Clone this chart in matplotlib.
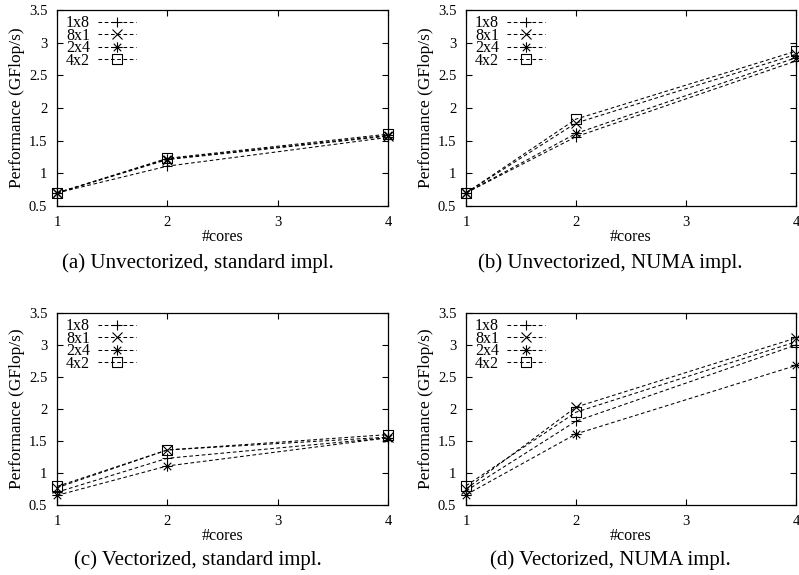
import matplotlib
matplotlib.use("Agg")
import matplotlib.pyplot as plt
from matplotlib.path import Path

plt.rcParams['font.family'] = ['Liberation Serif', 'DejaVu Serif']

cores = [1, 2, 4]
series_names = ["1x8", "8x1", "2x4", "4x2"]

a_1x8 = [0.70, 1.11, 1.55]
a_8x1 = [0.70, 1.21, 1.57]
a_2x4 = [0.70, 1.22, 1.58]
a_4x2 = [0.70, 1.23, 1.60]

b_1x8 = [0.70, 1.56, 2.72]
b_8x1 = [0.70, 1.77, 2.82]
b_2x4 = [0.70, 1.61, 2.77]
b_4x2 = [0.70, 1.83, 2.87]

c_1x8 = [0.70, 1.23, 1.55]
c_8x1 = [0.77, 1.36, 1.56]
c_2x4 = [0.65, 1.11, 1.55]
c_4x2 = [0.79, 1.36, 1.60]

d_1x8 = [0.72, 1.81, 3.00]
d_8x1 = [0.75, 2.03, 3.11]
d_2x4 = [0.66, 1.61, 2.68]
d_4x2 = [0.80, 1.95, 3.05]

captions = ["(a) Unvectorized, standard impl.",
            "(b) Unvectorized, NUMA impl.",
            "(c) Vectorized, standard impl.",
            "(d) Vectorized, NUMA impl."]
yticks = [0.5, 1, 1.5, 2, 2.5, 3, 3.5]
ytick_labels = ["0.5", "1", "1.5", "2", "2.5", "3", "3.5"]
xticks = [1, 2, 3, 4]

panels = [
    [a_1x8, a_8x1, a_2x4, a_4x2],
    [b_1x8, b_8x1, b_2x4, b_4x2],
    [c_1x8, c_8x1, c_2x4, c_4x2],
    [d_1x8, d_8x1, d_2x4, d_4x2],
]

# custom gnuplot-like markers
star = Path([(-1, 0), (1, 0), (0, -1), (0, 1), (-.72, -.72), (.72, .72), (-.72, .72), (.72, -.72)],
            [Path.MOVETO, Path.LINETO] * 4)
s = 0.07
box = Path([(-1, -1), (1, -1), (1, 1), (-1, 1), (-1, -1),
            (-s, -s), (s, -s), (s, s), (-s, s), (-s, -s)],
           [Path.MOVETO, Path.LINETO, Path.LINETO, Path.LINETO, Path.CLOSEPOLY,
            Path.MOVETO, Path.LINETO, Path.LINETO, Path.LINETO, Path.CLOSEPOLY])
markers = ['+', 'x', star, box]
msizes = [7.5, 6.5, 7.5, 6.5]

W, H = 799, 575
fig = plt.figure(figsize=(W / 100, H / 100), dpi=100)

ax_px = [(57, 10, 388, 206), (466, 10, 796, 206),
         (57, 313, 388, 505), (466, 313, 796, 505)]
cap_pos = [(198, 263), (610, 263), (198, 560), (610, 560)]

for i, (l, t, r, b) in enumerate(ax_px):
    ax = fig.add_axes([l / W, 1 - b / H, (r - l) / W, (b - t) / H])
    for name, vals, m, ms in zip(series_names, panels[i], markers, msizes):
        ax.plot(cores, vals, color='black', linewidth=0.75, linestyle=(0, (3.5, 2.5)),
                marker=m, markersize=ms, markerfacecolor='none',
                markeredgecolor='black', markeredgewidth=0.8, label=name)
    ax.set_xlim(1, 4)
    ax.set_ylim(0.5, 3.5)
    ax.set_xticks(xticks)
    ax.set_xticklabels([str(x) for x in xticks])
    ax.set_yticks(yticks)
    ax.set_yticklabels(ytick_labels)
    ax.tick_params(direction='in', top=True, right=True, length=4, width=0.8,
                   labelsize=10.5, pad=7, colors='black')
    for sp in ax.spines.values():
        sp.set_linewidth(0.9)
    ax.set_xlabel("#cores", fontsize=11.5, labelpad=0)
    ax.set_ylabel("Performance (GFlop/s)", fontsize=12.5, labelpad=3)
    for line in ax.get_lines():
        line.set_clip_on(False)
    ax.legend(loc='upper left', bbox_to_anchor=(0.027, 0.972), frameon=False,
              markerfirst=False, handlelength=2.4, handletextpad=0.5,
              labelspacing=-0.22, borderpad=0, borderaxespad=0, fontsize=11.5)
    cx, cy = cap_pos[i]
    fig.text(cx / W, 1 - cy / H, captions[i], ha='center', va='center', fontsize=15)

fig.savefig("out.png", dpi=100)
